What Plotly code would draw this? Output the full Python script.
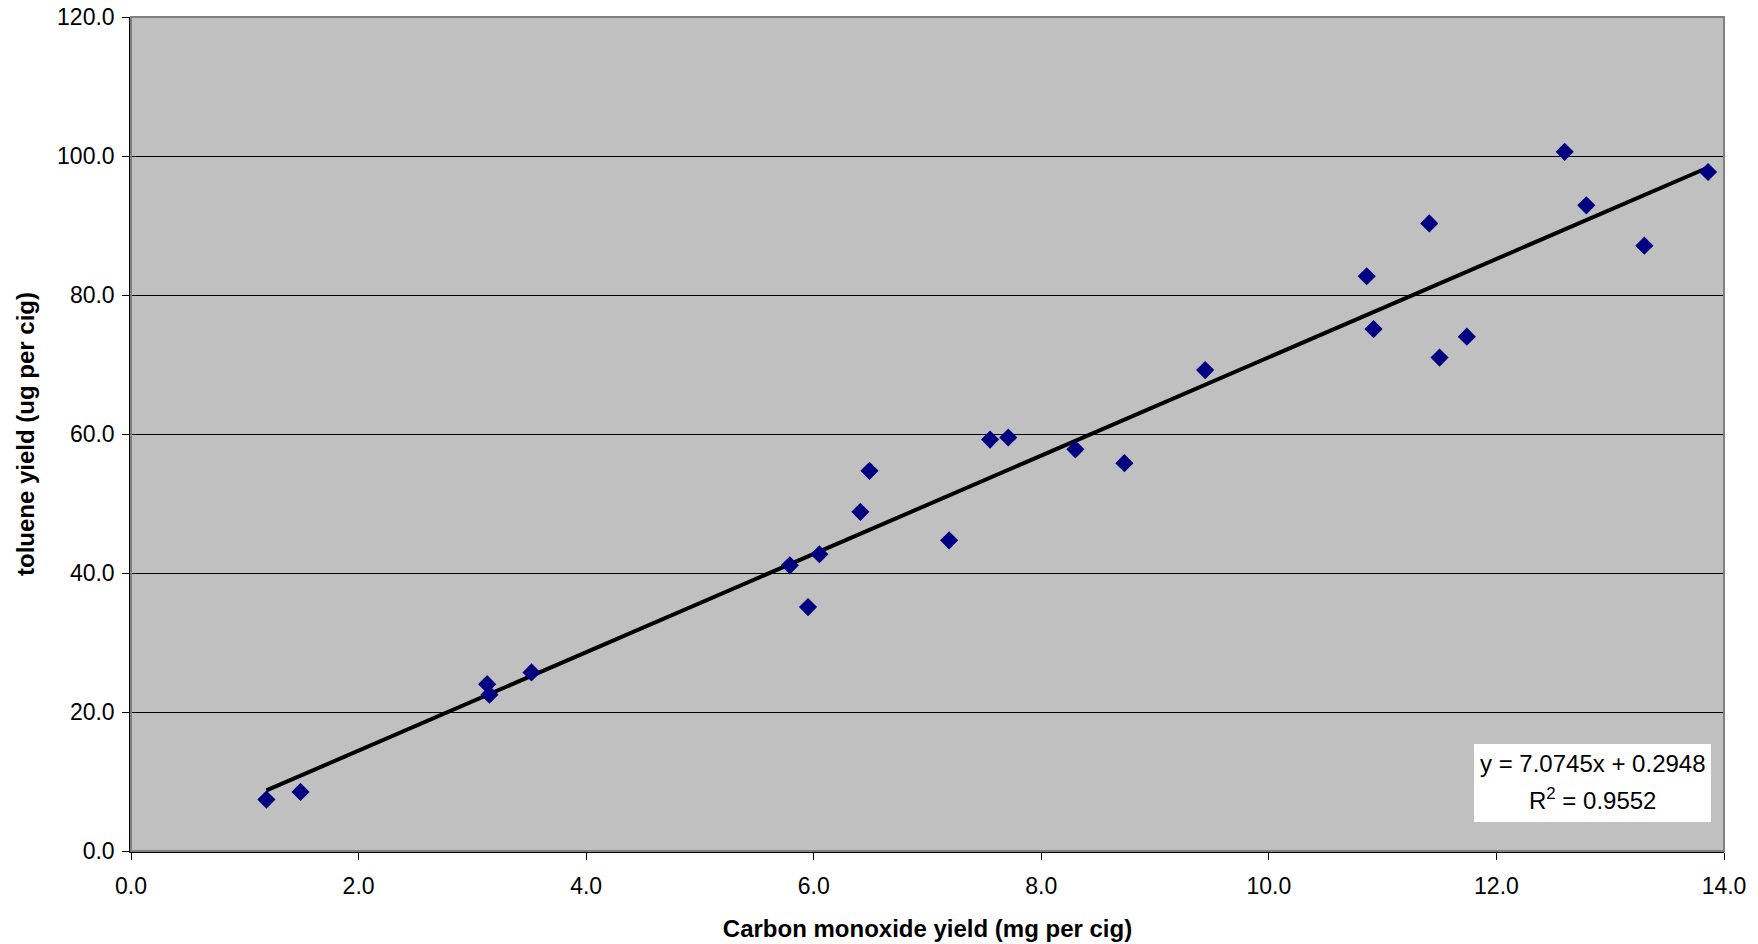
import numpy as np
import plotly.graph_objects as go

# Data
co_yield = [1.19, 1.49, 3.13, 3.15, 3.52, 5.79, 5.95, 6.05, 6.41, 6.49,
            7.19, 7.55, 7.71, 8.30, 8.73, 9.44, 10.86, 10.92, 11.41, 11.50,
            11.74, 12.60, 12.79, 13.30, 13.86]
toluene_yield = [7.4, 8.5, 24.0, 22.5, 25.7, 41.1, 35.1, 42.7, 48.8, 54.7,
                 44.7, 59.2, 59.5, 57.8, 55.8, 69.2, 82.7, 75.1, 90.3, 71.0,
                 74.0, 100.6, 92.9, 87.1, 97.7]
slope = 7.0745
intercept = 0.2948
r_squared = 0.9552

x_ticks = [0, 2, 4, 6, 8, 10, 12, 14]
y_ticks = [0, 20, 40, 60, 80, 100, 120]

FONT = "Liberation Sans"

trend_x = [min(co_yield), max(co_yield)]
trend_y = [slope * v + intercept for v in trend_x]

fig = go.Figure()
fig.add_trace(go.Scatter(
    x=trend_x, y=trend_y, mode="lines",
    line=dict(color="black", width=4),
    showlegend=False, hoverinfo="skip"))
fig.add_trace(go.Scatter(
    x=co_yield, y=toluene_yield, mode="markers",
    marker=dict(symbol="diamond", size=14, color="#000080",
                line=dict(width=0)),
    showlegend=False))

# equation box
fig.add_shape(type="rect", xref="paper", yref="paper",
              x0=0.8431, x1=0.9918, y0=0.0348, y1=0.1283,
              fillcolor="white", line=dict(width=0), layer="above")
fig.add_annotation(
    xref="paper", yref="paper", x=0.9175, y=0.1055,
    xanchor="center", yanchor="middle",
    text=f"y = {slope:.4f}x + {intercept:.4f}",
    showarrow=False, font=dict(family=FONT, size=24, color="black"))
fig.add_annotation(
    xref="paper", yref="paper", x=0.9175, y=0.0625,
    xanchor="center", yanchor="middle",
    text=f"R<sup>2</sup> = {r_squared:.4f}",
    showarrow=False, font=dict(family=FONT, size=24, color="black"))

# plot border (top/right grey)
fig.add_shape(type="rect", xref="paper", yref="paper", x0=0, y0=0, x1=1, y1=1,
              line=dict(color="#808080", width=2), layer="above")

fig.update_layout(
    width=1758, height=944,
    margin=dict(l=131, r=34, t=17, b=93, autoexpand=False),
    paper_bgcolor="white",
    plot_bgcolor="#C0C0C0",
    font=dict(family=FONT, size=23, color="black"),
    xaxis=dict(
        range=[0, 14], tickvals=x_ticks, tickformat=".1f",
        showgrid=False, zeroline=False, automargin=False,
        showline=True, linecolor="black", linewidth=1.5,
        ticks="outside", ticklen=7, tickcolor="black",
        ticklabelstandoff=7, ticklabeloverflow="allow",
        tickfont=dict(family=FONT, size=23),
        title=dict(text="<b>Carbon monoxide yield (mg per cig)</b>",
                   font=dict(family=FONT, size=24), standoff=22)),
    yaxis=dict(
        range=[0, 120], tickvals=y_ticks, tickformat=".1f",
        showgrid=True, gridcolor="black", gridwidth=1,
        zeroline=False, automargin=False,
        showline=True, linecolor="black", linewidth=1.5,
        ticks="outside", ticklen=7, tickcolor="black",
        ticklabelstandoff=3, ticklabeloverflow="allow",
        tickfont=dict(family=FONT, size=23),
        title=dict(text="<b>toluene yield (ug per cig)</b>",
                   font=dict(family=FONT, size=24), standoff=16)),
)

fig.write_html("out.html",
               config={"displayModeBar": False},
               post_script="document.body.style.margin='0';")
